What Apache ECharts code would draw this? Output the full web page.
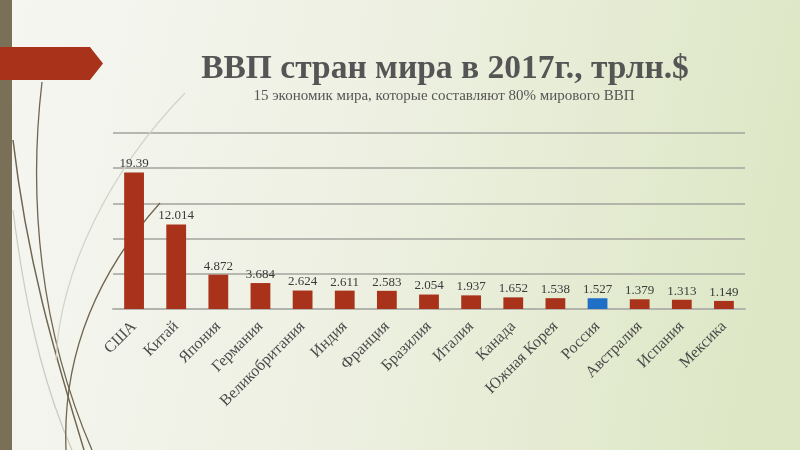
<!DOCTYPE html>
<html>
<head>
<meta charset="utf-8">
<script src="https://cdn.jsdelivr.net/npm/echarts@6/dist/echarts.min.js"></script>
<style>html,body{margin:0;padding:0;}#c{width:800px;height:450px;}</style>
</head>
<body>
<div id="c"></div>
<script>
const categories = ['США','Китай','Япония','Германия','Великобритания','Индия','Франция','Бразилия','Италия','Канада','Южная Корея','Россия','Австралия','Испания','Мексика'];
const gdp = [19.39, 12.014, 4.872, 3.684, 2.624, 2.611, 2.583, 2.054, 1.937, 1.652, 1.538, 1.527, 1.379, 1.313, 1.149];
const highlight = 'Россия';
const yTicks = [0, 5, 10, 15, 20, 25];

const serif = '"Liberation Serif", "DejaVu Serif", serif';
const chart = echarts.init(document.getElementById('c'));
chart.setOption({
  backgroundColor: {
    type: 'linear', x: 0, y: 0, x2: 1, y2: 0.35,
    colorStops: [{offset: 0, color: '#f6f6f2'}, {offset: 0.5, color: '#edf0e1'}, {offset: 1, color: '#dde7c5'}]
  },
  animation: false,
  graphic: [
    {type: 'rect', shape: {x: 0, y: 0, width: 12, height: 450}, style: {fill: '#7a6f57'}, z: 1},
    {type: 'bezierCurve', shape: {x1: 42, y1: 82, cpx1: 28, cpy1: 200, cpx2: 40, cpy2: 330, x2: 92, y2: 450}, style: {stroke: '#6f6550', lineWidth: 1.3, fill: null}, z: 1},
    {type: 'bezierCurve', shape: {x1: 13, y1: 140, cpx1: 28, cpy1: 270, cpx2: 60, cpy2: 370, x2: 84, y2: 450}, style: {stroke: '#6f6550', lineWidth: 1.5, fill: null}, z: 1},
    {type: 'bezierCurve', shape: {x1: 13, y1: 210, cpx1: 28, cpy1: 330, cpx2: 50, cpy2: 400, x2: 72, y2: 450}, style: {stroke: '#c9c9bd', lineWidth: 1.2, fill: null}, z: 1},
    {type: 'bezierCurve', shape: {x1: 185, y1: 93, cpx1: 110, cpy1: 170, cpx2: 60, cpy2: 270, x2: 56, y2: 360}, style: {stroke: '#d3d3c8', lineWidth: 1.2, fill: null}, z: 1},
    {type: 'bezierCurve', shape: {x1: 160, y1: 203, cpx1: 100, cpy1: 270, cpx2: 62, cpy2: 350, x2: 66, y2: 450}, style: {stroke: '#6f6550', lineWidth: 1.3, fill: null}, z: 1},
    {type: 'polygon', shape: {points: [[0, 47], [90, 47], [103, 63.5], [90, 80], [0, 80]]}, style: {fill: '#a8321a'}, z: 2}
  ],
  title: [
    {text: 'ВВП стран мира в 2017г., трлн.$', left: 440, top: 47, textAlign: 'center',
     textStyle: {fontFamily: serif, fontWeight: 'bold', fontSize: 33.5, color: '#555555'}},
    {text: '15 экономик мира, которые составляют 80% мирового ВВП', left: 439, top: 84, textAlign: 'center',
     textStyle: {fontFamily: serif, fontWeight: 'normal', fontSize: 15, color: '#555555'}}
  ],
  grid: {left: 113, right: 55, top: 133, bottom: 141, containLabel: false},
  xAxis: {
    type: 'category', data: categories,
    axisLine: {lineStyle: {color: '#b3b3ad', width: 2}},
    axisTick: {show: false},
    axisLabel: {rotate: 45, interval: 0, margin: 15, fontFamily: serif, fontSize: 16, color: '#4a4a4a'}
  },
  yAxis: {
    type: 'value', min: yTicks[0], max: yTicks[yTicks.length - 1], interval: 5,
    axisLine: {show: false}, axisTick: {show: false}, axisLabel: {show: false},
    splitLine: {lineStyle: {color: '#a3a39d', width: 1.5}}
  },
  series: [{
    type: 'bar', barWidth: '47%',
    data: gdp.map((v, i) => ({value: v, itemStyle: {color: categories[i] === highlight ? '#1f6fc6' : '#a8321a'}})),
    label: {show: true, position: 'top', distance: 2, fontFamily: serif, fontSize: 13, color: '#3a3a3a'}
  }]
});
</script>
</body>
</html>
